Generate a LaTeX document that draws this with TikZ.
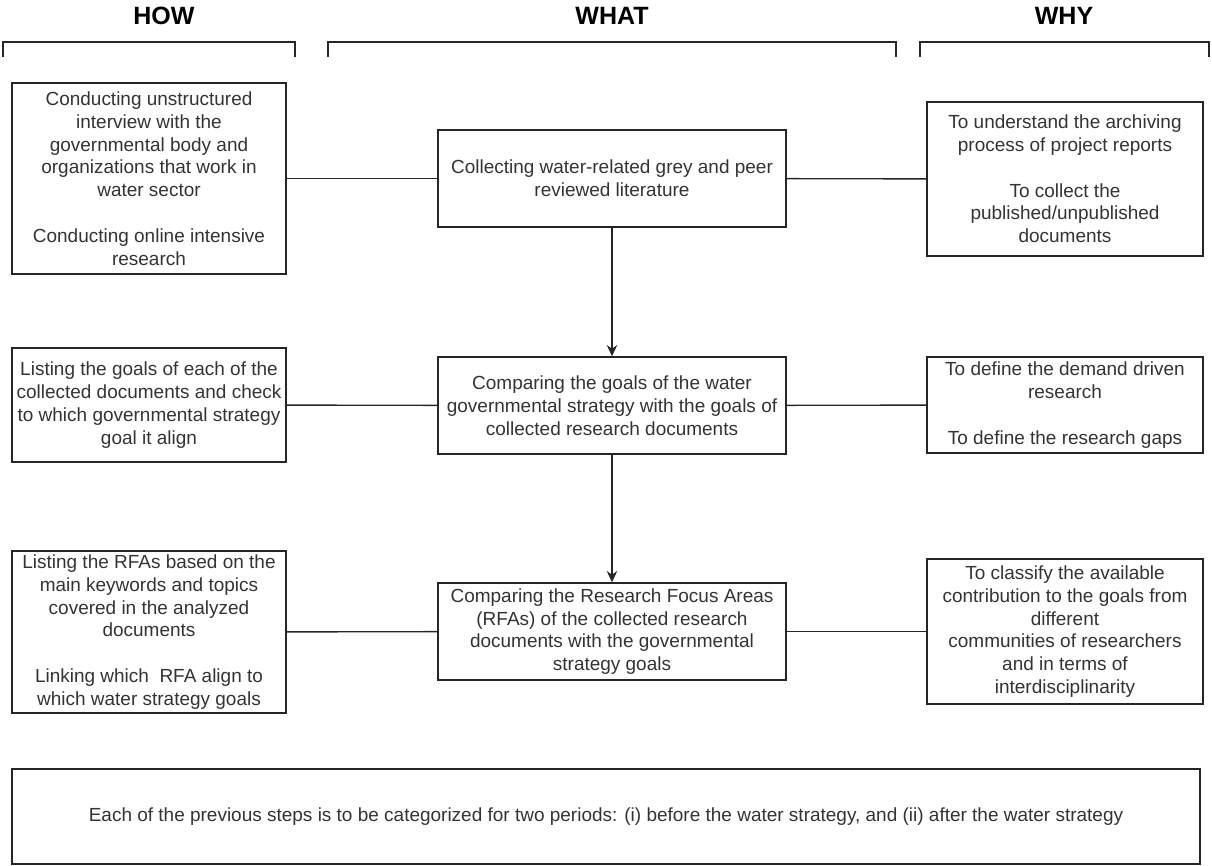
\documentclass[tikz,border=0pt]{standalone}
\usepackage{fontspec}
\setmainfont{Liberation Sans}
\usepackage{xcolor}
\usetikzlibrary{arrows.meta}

\newcommand\boxfont{\fontsize{13.5}{16.2}\selectfont}
\newcommand\headfont{\fontsize{17.8}{20}\selectfont\bfseries}

\tikzset{
  stepbox/.style={draw=black!85, line width=1pt, align=center, font=\boxfont,
    text=black!80, inner sep=1pt},
  howbox/.style={stepbox, minimum width=6.85cm},
  whatbox/.style={stepbox, minimum width=8.7cm, minimum height=2.425cm},
  whybox/.style={stepbox, minimum width=6.9cm},
  head/.style={font=\headfont, text=black},
  bracket/.style={draw=black!85, line width=1.6pt},
  link/.style={draw=black!85, line width=1pt},
}

\begin{document}
\begin{tikzpicture}[x=0.025cm, y=-0.025cm]
\useasboundingbox (0,0) rectangle (1212,866);

% column heads
\node[head] (how) at (164,16) {HOW};
\node[head] (what) at (612,16) {WHAT};
\node[head] (why) at (1064,16) {WHY};
\draw[bracket] (3,57) -- (3,42) -- (295,42) -- (295,57);
\draw[bracket] (328,57) -- (328,42) -- (896,42) -- (896,57);
\draw[bracket] (920,57) -- (920,42) -- (1209,42) -- (1209,57);

% HOW
\node[howbox, minimum height=4.775cm] (how1) at (149,178.5)
  {Conducting unstructured\\interview with the\\governmental body and\\organizations that work in\\water sector\\[\baselineskip]Conducting online intensive\\research};
\node[howbox, minimum height=2.85cm] (how2) at (149,405)
  {Listing the goals of each of the\\collected documents and check\\to which governmental strategy\\goal it align};
\node[howbox, minimum height=4.05cm] (how3) at (149,632)
  {Listing the RFAs based on the\\main keywords and topics\\covered in the analyzed\\documents\\[\baselineskip]Linking which\ \ RFA align to\\which water strategy goals};

% WHAT
\node[whatbox] (what1) at (612,178.5)
  {Collecting water-related grey and peer\\reviewed literature};
\node[whatbox] (what2) at (612,405.5)
  {Comparing the goals of the water\\governmental strategy with the goals of\\collected research documents};
\node[whatbox] (what3) at (612,631.5)
  {Comparing the Research Focus Areas\\(RFAs) of the collected research\\documents with the governmental\\strategy goals};

% WHY
\node[whybox, minimum height=3.85cm] (why1) at (1065,179)
  {To understand the archiving\\process of project reports\\[\baselineskip]To collect the\\published/unpublished\\documents};
\node[whybox, minimum height=2.4cm] (why2) at (1065,405)
  {To define the demand driven\\research\\[\baselineskip]To define the research gaps};
\node[whybox, minimum height=3.625cm] (why3) at (1065,631.5)
  {To classify the available\\contribution to the goals from\\different\\communities of researchers\\and in terms of\\interdisciplinarity};

% periods
\node[stepbox, minimum width=29.7cm, minimum height=2.375cm] (periods) at (606,816.5)
  {Each of the previous steps is to be categorized for two periods: (i) before the water strategy, and (ii) after the water strategy};

\draw[link] (how1) -- (what1);
\draw[link] (what1) -- (why1);
\draw[link] (how2) -- (what2);
\draw[link] (what2) -- (why2);
\draw[link] (how3) -- (what3);
\draw[link] (what3) -- (why3);
\draw[link, -{Stealth[length=0.28cm, width=0.26cm]}] (what1) -- (what2);
\draw[link, -{Stealth[length=0.28cm, width=0.26cm]}] (what2) -- (what3);
\end{tikzpicture}
\end{document}
